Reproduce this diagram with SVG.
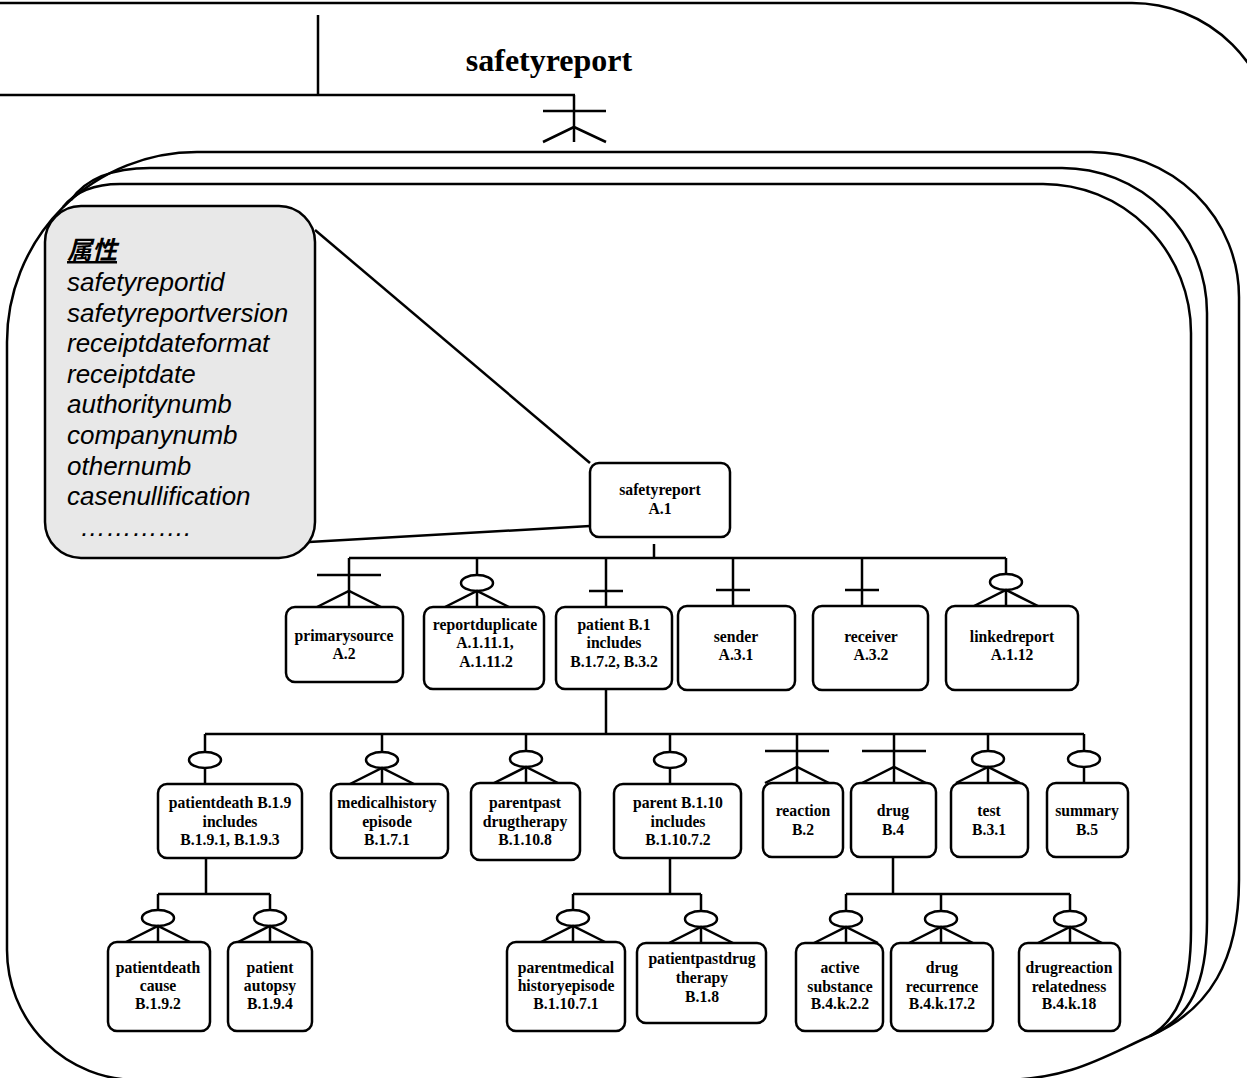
<svg xmlns="http://www.w3.org/2000/svg" xmlns:xlink="http://www.w3.org/1999/xlink" width="1247" height="1078" viewBox="0 0 1247 1078">
<style>
.ln{fill:none;stroke:#000;stroke-width:2.5}
.box{fill:#fff;stroke:#000;stroke-width:2.5}
.t{font-family:"Liberation Serif","Times New Roman",serif;font-weight:bold;font-size:15.7px;text-anchor:middle;fill:#000}
.c{font-family:"Liberation Sans",Arial,"Noto Sans CJK SC",sans-serif;font-style:italic;font-size:26px;fill:#000}
</style>
<defs>
<g id="om"><line class="ln" x1="-32" y1="-32" x2="32" y2="-32"/><path class="ln" d="M-32,0 L0,-16 L32,0"/></g>
<g id="zm"><ellipse cx="0" cy="-24" rx="16" ry="8" fill="#fff" stroke="#000" stroke-width="2.5"/><path class="ln" d="M-32,0 L0,-16 L32,0"/></g>
<g id="zo"><ellipse cx="0" cy="-24" rx="16" ry="8" fill="#fff" stroke="#000" stroke-width="2.5"/></g>
<g id="o"><line class="ln" x1="-17" y1="-16" x2="17" y2="-16"/></g>
</defs>
<rect width="1247" height="1078" fill="#fff"/>

<g id="frame">
<path class="ln" d="M-3,3 H1132 A142,142 0 0 1 1274,145"/>
<line class="ln" x1="318" y1="15" x2="318" y2="95"/>
<line class="ln" x1="-3" y1="95" x2="575" y2="95"/>
<text x="549" y="71" font-family="Liberation Serif,'Times New Roman',serif" font-weight="bold" font-size="32" text-anchor="middle">safetyreport</text>
<line class="ln" x1="574" y1="95" x2="574" y2="142"/>
<line class="ln" x1="543" y1="111" x2="606" y2="111"/>
<path class="ln" d="M543,142 L574,127 L606,142"/>
<path class="ln" fill="#fff" d="M197,152 H1091 A148,145 0 0 1 1239,297 V880 C1239,960 1210,1010 1150,1036 C1105,1056 1070,1080 1000,1080 H137 A130,130 0 0 1 7,950 V342 A190,190 0 0 1 197,152 Z"/>
<path class="ln" d="M71,200 C85,180 110,168 150,168 H1062 A145,145 0 0 1 1207,313 V920 C1207,985 1190,1018 1150,1036"/>
<path class="ln" d="M63,207 C75,192 95,184 120,184 H1043 A148,149 0 0 1 1191,333 V930 C1191,990 1177,1020 1150,1036"/>
</g>

<g id="callout">
<line class="ln" x1="315" y1="230" x2="590" y2="463"/>
<line class="ln" x1="309" y1="542" x2="590" y2="526"/>
<rect x="45" y="206" width="270" height="352" rx="36" fill="#e8e8e8" stroke="#000" stroke-width="2.5"/>
<text x="67" y="259" font-family="Liberation Sans,'Noto Sans CJK SC',sans-serif" font-style="italic" font-weight="bold" font-size="25" text-decoration="underline">属性</text>
<text class="c" x="67" y="291">safetyreportid</text>
<text class="c" x="67" y="322">safetyreportversion</text>
<text class="c" x="67" y="352">receiptdateformat</text>
<text class="c" x="67" y="383">receiptdate</text>
<text class="c" x="67" y="413">authoritynumb</text>
<text class="c" x="67" y="444">companynumb</text>
<text class="c" x="67" y="475">othernumb</text>
<text class="c" x="67" y="505">casenullification</text>
<text class="c" x="80" y="536">………….</text>
</g>

<g id="connectors">
<line class="ln" x1="654" y1="544" x2="654" y2="558"/>
<line class="ln" x1="349" y1="558" x2="1006" y2="558"/>
<line class="ln" x1="349" y1="558" x2="349" y2="607"/>
<line class="ln" x1="477" y1="558" x2="477" y2="607"/>
<line class="ln" x1="606" y1="558" x2="606" y2="607"/>
<line class="ln" x1="733" y1="558" x2="733" y2="606"/>
<line class="ln" x1="862" y1="558" x2="862" y2="606"/>
<line class="ln" x1="1006" y1="558" x2="1006" y2="606"/>
<use xlink:href="#om" x="349" y="607"/>
<use xlink:href="#zm" x="477" y="607"/>
<use xlink:href="#o" x="606" y="607"/>
<use xlink:href="#o" x="733" y="606"/>
<use xlink:href="#o" x="862" y="606"/>
<use xlink:href="#zm" x="1006" y="606"/>

<line class="ln" x1="606" y1="689" x2="606" y2="734"/>
<line class="ln" x1="205" y1="734" x2="1084" y2="734"/>
<line class="ln" x1="205" y1="734" x2="205" y2="784"/>
<line class="ln" x1="382" y1="734" x2="382" y2="784"/>
<line class="ln" x1="526" y1="734" x2="526" y2="783"/>
<line class="ln" x1="670" y1="734" x2="670" y2="784"/>
<line class="ln" x1="797" y1="734" x2="797" y2="783"/>
<line class="ln" x1="894" y1="734" x2="894" y2="783"/>
<line class="ln" x1="988" y1="734" x2="988" y2="783"/>
<line class="ln" x1="1084" y1="734" x2="1084" y2="783"/>
<use xlink:href="#zo" x="205" y="784"/>
<use xlink:href="#zm" x="382" y="784"/>
<use xlink:href="#zm" x="526" y="783"/>
<use xlink:href="#zo" x="670" y="784"/>
<use xlink:href="#om" x="797" y="783"/>
<use xlink:href="#om" x="894" y="783"/>
<use xlink:href="#zm" x="988" y="783"/>
<use xlink:href="#zo" x="1084" y="783"/>

<line class="ln" x1="206" y1="858" x2="206" y2="894"/>
<line class="ln" x1="158" y1="894" x2="270" y2="894"/>
<line class="ln" x1="158" y1="894" x2="158" y2="942"/>
<line class="ln" x1="270" y1="894" x2="270" y2="942"/>
<use xlink:href="#zm" x="158" y="942"/>
<use xlink:href="#zm" x="270" y="942"/>

<line class="ln" x1="670" y1="858" x2="670" y2="894"/>
<line class="ln" x1="573" y1="894" x2="701" y2="894"/>
<line class="ln" x1="573" y1="894" x2="573" y2="942"/>
<line class="ln" x1="701" y1="894" x2="701" y2="943"/>
<use xlink:href="#zm" x="573" y="942"/>
<use xlink:href="#zm" x="701" y="943"/>

<line class="ln" x1="893" y1="857" x2="893" y2="894"/>
<line class="ln" x1="846" y1="894" x2="1070" y2="894"/>
<line class="ln" x1="846" y1="894" x2="846" y2="943"/>
<line class="ln" x1="941" y1="894" x2="941" y2="943"/>
<line class="ln" x1="1070" y1="894" x2="1070" y2="943"/>
<use xlink:href="#zm" x="846" y="943"/>
<use xlink:href="#zm" x="941" y="943"/>
<use xlink:href="#zm" x="1070" y="943"/>
</g>

<g id="n-safetyreport"><rect class="box" x="590" y="463" width="140" height="74" rx="9"/><text class="t" x="660" y="495">safetyreport</text><text class="t" x="660" y="514">A.1</text></g>

<g id="n-primarysource"><rect class="box" x="286" y="607" width="117" height="75" rx="9"/><text class="t" x="344" y="641">primarysource</text><text class="t" x="344" y="659">A.2</text></g>
<g id="n-reportduplicate"><rect class="box" x="424" y="607" width="120" height="82" rx="9"/><text class="t" x="485" y="630">reportduplicate</text><text class="t" x="485" y="648">A.1.11.1,</text><text class="t" x="486" y="667">A.1.11.2</text></g>
<g id="n-patient"><rect class="box" x="556" y="607" width="116" height="82" rx="9"/><text class="t" x="614" y="630">patient B.1</text><text class="t" x="614" y="648">includes</text><text class="t" x="614" y="667">B.1.7.2, B.3.2</text></g>
<g id="n-sender"><rect class="box" x="678" y="606" width="117" height="84" rx="9"/><text class="t" x="736" y="642">sender</text><text class="t" x="736" y="660">A.3.1</text></g>
<g id="n-receiver"><rect class="box" x="813" y="606" width="115" height="84" rx="9"/><text class="t" x="871" y="642">receiver</text><text class="t" x="871" y="660">A.3.2</text></g>
<g id="n-linkedreport"><rect class="box" x="946" y="606" width="132" height="84" rx="9"/><text class="t" x="1012" y="642">linkedreport</text><text class="t" x="1012" y="660">A.1.12</text></g>

<g id="n-patientdeath"><rect class="box" x="158" y="784" width="144" height="74" rx="9"/><text class="t" x="230" y="808">patientdeath B.1.9</text><text class="t" x="230" y="827">includes</text><text class="t" x="230" y="845">B.1.9.1, B.1.9.3</text></g>
<g id="n-medicalhistory"><rect class="box" x="331" y="784" width="117" height="74" rx="9"/><text class="t" x="387" y="808">medicalhistory</text><text class="t" x="387" y="827">episode</text><text class="t" x="387" y="845">B.1.7.1</text></g>
<g id="n-parentpast"><rect class="box" x="471" y="783" width="109" height="77" rx="9"/><text class="t" x="525" y="808">parentpast</text><text class="t" x="525" y="827">drugtherapy</text><text class="t" x="525" y="845">B.1.10.8</text></g>
<g id="n-parent"><rect class="box" x="614" y="784" width="127" height="74" rx="9"/><text class="t" x="678" y="808">parent B.1.10</text><text class="t" x="678" y="827">includes</text><text class="t" x="678" y="845">B.1.10.7.2</text></g>
<g id="n-reaction"><rect class="box" x="763" y="783" width="80" height="74" rx="9"/><text class="t" x="803" y="816">reaction</text><text class="t" x="803" y="835">B.2</text></g>
<g id="n-drug"><rect class="box" x="851" y="783" width="85" height="74" rx="9"/><text class="t" x="893" y="816">drug</text><text class="t" x="893" y="835">B.4</text></g>
<g id="n-test"><rect class="box" x="951" y="783" width="77" height="74" rx="9"/><text class="t" x="989" y="816">test</text><text class="t" x="989" y="835">B.3.1</text></g>
<g id="n-summary"><rect class="box" x="1047" y="783" width="81" height="74" rx="9"/><text class="t" x="1087" y="816">summary</text><text class="t" x="1087" y="835">B.5</text></g>

<g id="n-patientdeathcause"><rect class="box" x="108" y="942" width="102" height="89" rx="9"/><text class="t" x="158" y="973">patientdeath</text><text class="t" x="158" y="991">cause</text><text class="t" x="158" y="1009">B.1.9.2</text></g>
<g id="n-patientautopsy"><rect class="box" x="228" y="942" width="84" height="89" rx="9"/><text class="t" x="270" y="973">patient</text><text class="t" x="270" y="991">autopsy</text><text class="t" x="270" y="1009">B.1.9.4</text></g>
<g id="n-parentmedical"><rect class="box" x="507" y="942" width="118" height="89" rx="9"/><text class="t" x="566" y="973">parentmedical</text><text class="t" x="566" y="991">historyepisode</text><text class="t" x="566" y="1009">B.1.10.7.1</text></g>
<g id="n-patientpastdrug"><rect class="box" x="637" y="943" width="129" height="80" rx="9"/><text class="t" x="702" y="964">patientpastdrug</text><text class="t" x="702" y="983">therapy</text><text class="t" x="702" y="1002">B.1.8</text></g>
<g id="n-activesubstance"><rect class="box" x="796" y="943" width="87" height="88" rx="9"/><text class="t" x="840" y="973">active</text><text class="t" x="840" y="992">substance</text><text class="t" x="840" y="1009">B.4.k.2.2</text></g>
<g id="n-drugrecurrence"><rect class="box" x="891" y="943" width="102" height="88" rx="9"/><text class="t" x="942" y="973">drug</text><text class="t" x="942" y="992">recurrence</text><text class="t" x="942" y="1009">B.4.k.17.2</text></g>
<g id="n-drugreaction"><rect class="box" x="1019" y="943" width="101" height="88" rx="9"/><text class="t" x="1069" y="973">drugreaction</text><text class="t" x="1069" y="992">relatedness</text><text class="t" x="1069" y="1009">B.4.k.18</text></g>
</svg>
